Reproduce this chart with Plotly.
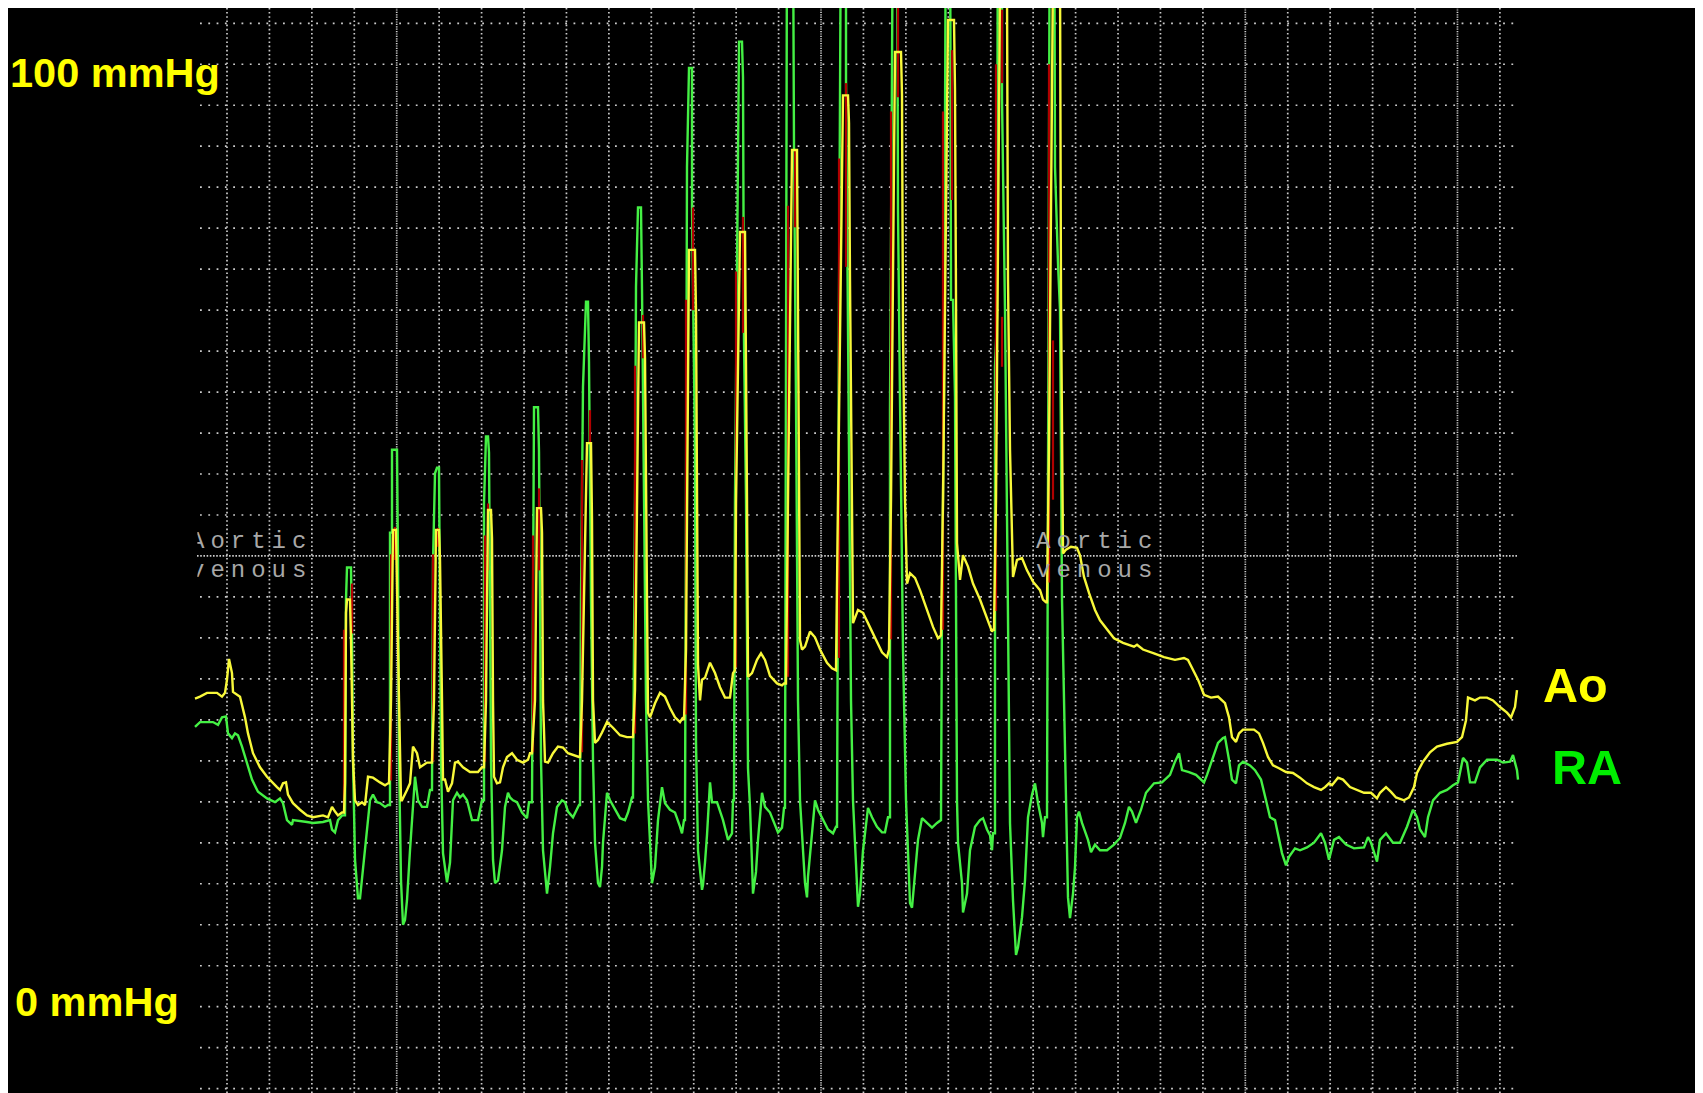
import plotly.graph_objects as go

# ---------------- data (time in ms, pressure in mmHg) ----------------
# RA (green) pressure trace vertices
ra_t = [0, 25, 90, 115, 135, 155, 165, 185, 200, 215, 235, 260, 285, 315, 360, 400, 425, 440, 460, 485, 490, 560, 590, 640, 675, 685, 700, 715, 735,
        750, 755, 760, 780, 785, 790, 800, 815, 825, 840, 860, 875, 890, 910, 925, 950, 965,
        975, 975, 985, 985, 1010, 1015, 1020, 1030, 1040, 1050, 1060, 1075, 1090, 1100, 1115, 1135, 1160, 1175, 1185,
        1190, 1200, 1210, 1220, 1225, 1230, 1240, 1260, 1275, 1290, 1310, 1325, 1340, 1360, 1385, 1415, 1435, 1445,
        1445, 1455, 1465, 1470, 1475, 1480, 1490, 1500, 1515, 1535, 1550, 1565, 1575, 1590, 1610, 1635, 1660, 1670, 1685,
        1690, 1695, 1715, 1720, 1725, 1730, 1740, 1760, 1775, 1790, 1810, 1835, 1850, 1865, 1890, 1910, 1920,
        1925, 1930, 1940, 1955, 1965, 1970, 1980, 1990, 2000, 2015, 2025, 2035, 2040, 2060, 2075, 2100, 2125, 2150, 2165, 2185,
        2190, 2200, 2205, 2215, 2230, 2235, 2240, 2255, 2265, 2275, 2285, 2300, 2315, 2335, 2350, 2375, 2400, 2425, 2435, 2445,
        2450, 2455, 2460, 2470, 2485, 2485, 2490, 2500, 2505, 2515, 2535, 2540, 2550, 2560, 2575, 2585, 2610, 2640, 2665, 2685, 2690,
        2695, 2700, 2710, 2720, 2735, 2740, 2745, 2755, 2765, 2775, 2785, 2790, 2805, 2815, 2835, 2850, 2875, 2900, 2915, 2935, 2945,
        2950, 2955, 2960, 2990, 2995, 3005, 3015, 3025, 3035, 3050, 3060, 3065, 3085, 3100, 3115, 3140, 3165, 3190, 3205,
        3210, 3215, 3220, 3230, 3255, 3255, 3265, 3280, 3290, 3300, 3310, 3315, 3325, 3340, 3365, 3385, 3410, 3435, 3450, 3465,
        3475, 3475, 3485, 3490, 3510, 3515, 3525, 3540, 3555, 3565, 3575, 3585, 3600, 3615, 3635, 3660, 3685, 3710, 3725,
        3730, 3735, 3745, 3755, 3775, 3780, 3790, 3800, 3805, 3810, 3815, 3835, 3840, 3860, 3875, 3900, 3925, 3940, 3960, 3975, 3985, 3990,
        4000, 4000, 4010, 4015, 4035, 4035, 4050, 4065, 4075, 4090, 4105, 4115, 4135, 4150, 4165, 4185, 4200, 4215, 4235, 4240, 4250,
        4260, 4265, 4270, 4275, 4295, 4300, 4315, 4325, 4335, 4355, 4365, 4375, 4390, 4400, 4410, 4420,
        4435, 4465, 4480, 4500, 4525, 4560, 4595, 4625, 4650, 4670, 4685, 4705, 4730, 4755, 4795, 4835, 4875, 4900, 4920, 4935,
        4970, 5005, 5045, 5060, 5090, 5115, 5140, 5150, 5170, 5185, 5205, 5220, 5240, 5275, 5300, 5330, 5355, 5375, 5400, 5420,
        5435, 5455, 5470, 5500, 5525, 5560, 5595, 5630, 5650, 5670, 5695, 5720, 5755, 5795, 5845, 5865, 5880, 5910, 5925, 5955,
        5990, 6025, 6060, 6090, 6110, 6125, 6150, 6165, 6190, 6225, 6260, 6290, 6315, 6340, 6360, 6375, 6400, 6425, 6460, 6510,
        6540, 6575, 6590, 6610, 6615]
ra_mmHg = [29.7, 30.2, 30.2, 29.9, 30.7, 30.8, 29.0, 28.5, 29.0, 28.8, 27.6, 25.9, 24.1, 22.8, 22.1, 21.7, 22.1, 21.6, 19.8, 19.3, 19.8, 19.6, 19.5, 19.6, 19.8, 18.8, 18.5, 19.8, 20.3,
           20.3, 43.2, 46.6, 46.6, 38.9, 26.2, 15.6, 11.5, 11.5, 14.8, 18.4, 21.9, 22.5, 21.7, 21.6, 21.2, 21.4,
           21.4, 50.3, 50.3, 59.1, 59.1, 47.4, 26.2, 13.4, 8.7, 9.2, 11.3, 16.6, 21.9, 24.4, 21.9, 21.2, 21.2, 23.0, 23.0,
           47.1, 56.6, 57.2, 57.2, 43.2, 26.2, 16.3, 13.2, 15.3, 21.9, 22.7, 22.2, 22.5, 21.9, 19.8, 19.8, 21.9, 21.9,
           53.4, 60.5, 60.5, 58.8, 43.2, 26.2, 15.6, 13.1, 13.4, 16.6, 21.2, 22.7, 22.2, 21.9, 21.7, 20.6, 20.0, 21.7, 21.7,
           53.0, 63.6, 63.6, 58.9, 43.2, 26.2, 16.6, 12.0, 14.8, 18.4, 21.2, 21.9, 21.7, 20.7, 20.1, 20.9, 21.4,
           21.4, 43.2, 65.8, 74.8, 74.8, 68.4, 43.2, 26.2, 17.4, 13.1, 12.7, 14.8, 17.4, 22.7, 21.9, 20.9, 20.0, 19.8, 20.6, 22.2,
           22.2, 53.8, 76.4, 84.8, 84.8, 76.1, 66.8, 32.5, 21.9, 17.4, 13.1, 14.8, 19.8, 23.3, 21.6, 20.9, 20.6, 19.1, 18.4, 19.8,
           19.8, 53.8, 89.1, 99.6, 99.6, 84.8, 74.4, 59.1, 28.1, 16.6, 12.4, 12.9, 15.3, 18.2, 23.8, 21.7, 21.7, 19.8, 17.7, 18.4, 21.9,
           21.9, 53.8, 80.0, 102.4, 102.4, 98.6, 70.7, 53.8, 25.3, 21.2, 15.3, 12.0, 14.3, 17.7, 22.7, 21.2, 20.6, 19.3, 18.5, 19.0, 21.1,
           21.1, 64.4, 116, 116, 91.2, 64.4, 32.5, 21.9, 18.4, 13.1, 11.6, 13.8, 18.4, 21.9, 20.9, 19.8, 18.8, 18.4, 19.1,
           19.1, 53.8, 75.0, 118, 118, 98.3, 75.0, 32.5, 21.9, 16.6, 12.0, 10.6, 12.0, 16.6, 21.1, 20.1, 19.1, 18.5, 18.5, 20.1,
           20.1, 63.3, 99.7, 120, 120, 84.5, 64.4, 37.9, 21.9, 15.3, 11.0, 10.5, 13.8, 17.7, 20.0, 19.5, 19.0, 19.5, 19.8,
           19.8, 43.2, 64.7, 122, 122, 75.0, 75.0, 64.7, 32.5, 21.9, 17.4, 13.1, 10.0, 12.0, 16.6, 19.1, 19.8, 20.0, 18.8, 18.2, 16.6, 18.4,
           18.4, 67.9, 73.2, 124, 124, 96.4, 73.9, 43.2, 19.5, 11.3, 5.5, 6.3, 9.5, 13.4, 20.1, 22.5, 23.7, 21.6, 19.5, 18.0, 20.1,
           20.1, 53.8, 70.7, 126, 126, 89.1, 78.9, 73.9, 43.2, 23.0, 11.6, 9.4, 12.0, 14.8, 20.1, 20.7,
           19.5, 17.7, 16.4, 17.2, 16.6, 16.6, 17.2, 17.9, 19.5, 21.2, 20.7, 19.5, 20.9, 22.7, 23.7, 23.8, 24.6, 26.0, 26.9, 25.1,
           24.9, 24.6, 23.8, 24.6, 26.5, 28.0, 28.5, 28.6, 26.2, 24.1, 23.7, 25.6, 26.0, 25.6, 25.1, 24.1, 21.9, 20.1, 19.8, 17.7,
           16.3, 15.0, 15.9, 16.8, 16.6, 16.9, 17.4, 18.4, 17.4, 15.6, 17.7, 18.0, 17.2, 16.8, 16.9, 18.0, 17.4, 15.4, 17.7, 18.4,
           17.4, 17.4, 19.1, 20.9, 20.1, 18.8, 18.0, 20.1, 21.9, 22.7, 23.0, 23.5, 23.8, 26.4, 25.9, 23.8, 23.8, 25.4, 26.2, 26.2,
           25.9, 26.0, 26.7, 25.1, 24.1]

# Ao (yellow) pressure trace vertices
ao_t = [0, 25, 60, 110, 135, 150, 160, 170, 185, 190, 225, 250, 265, 290, 325, 360, 410, 425, 440, 455, 465, 490, 525, 560, 590, 640, 665, 685, 700, 715, 735,
        745, 750, 755, 760, 775, 780, 790, 800, 815, 835, 850, 865, 890, 925, 950, 965,
        970, 980, 990, 1005, 1010, 1020, 1030, 1035, 1060, 1075, 1090, 1110, 1125, 1160, 1175,
        1185, 1195, 1205, 1220, 1225, 1235, 1240, 1250, 1265, 1285, 1300, 1315, 1340, 1375, 1415, 1435,
        1445, 1455, 1465, 1480, 1485, 1490, 1495, 1510, 1525, 1540, 1560, 1585, 1610, 1640, 1665, 1675,
        1685, 1700, 1710, 1730, 1735, 1740, 1750, 1765, 1790, 1815, 1840, 1865, 1890, 1910, 1920,
        1925, 1935, 1960, 1980, 1985, 1990, 2000, 2015, 2035, 2060, 2090, 2125, 2160, 2180,
        2190, 2200, 2220, 2245, 2250, 2260, 2265, 2275, 2300, 2325, 2350, 2375, 2400, 2425, 2440,
        2445, 2455, 2470, 2500, 2505, 2510, 2515, 2525, 2535, 2550, 2575, 2600, 2625, 2650, 2675, 2690,
        2700, 2705, 2725, 2750, 2755, 2760, 2765, 2785, 2810, 2830, 2850, 2875, 2910, 2935, 2945,
        2955, 2965, 2985, 3010, 3015, 3020, 3025, 3035, 3050, 3075, 3100, 3125, 3160, 3185, 3200,
        3205, 3215, 3240, 3265, 3270, 3275, 3285, 3290, 3315, 3340, 3365, 3400, 3435, 3460, 3470,
        3480, 3500, 3530, 3535, 3540, 3550, 3560, 3575, 3600, 3625, 3660, 3690, 3715, 3730,
        3740, 3765, 3795, 3800, 3805, 3810, 3825, 3840, 3865, 3890, 3925, 3960, 3985, 3990,
        3995, 4005, 4025, 4060, 4065, 4075, 4085, 4090, 4110, 4135, 4160, 4190, 4225, 4240, 4255,
        4260, 4270, 4290, 4325, 4330, 4340, 4355, 4380, 4410, 4425, 4445, 4470, 4500, 4525, 4560, 4595, 4640, 4695, 4710, 4740,
        4795, 4845, 4900, 4945, 4965, 4990, 5015, 5045, 5080, 5115, 5150, 5170, 5185, 5205, 5220, 5240, 5295, 5320, 5340, 5365,
        5390, 5420, 5455, 5490, 5525, 5560, 5595, 5630, 5650, 5670, 5685, 5715, 5740, 5775, 5810, 5845, 5880, 5910, 5925, 5955,
        5980, 6005, 6045, 6070, 6095, 6110, 6140, 6175, 6210, 6260, 6310, 6335, 6355, 6365, 6400, 6425, 6460, 6490, 6525, 6560,
        6580, 6600, 6610]
ao_mmHg = [32.7, 32.9, 33.3, 33.3, 32.9, 33.3, 34.7, 36.9, 35.4, 33.4, 32.9, 30.7, 29.0, 26.9, 25.4, 24.4, 23.3, 23.0, 23.7, 23.8, 22.5, 21.6, 20.9, 20.3, 20.1, 20.3, 20.1, 21.2, 20.7, 20.3, 20.6,
           20.6, 23.7, 41.8, 43.2, 43.2, 38.9, 26.2, 21.9, 21.4, 21.7, 21.4, 24.4, 24.3, 23.8, 23.5, 23.7,
           23.7, 32.5, 50.6, 50.6, 43.2, 32.5, 21.9, 21.9, 23.0, 23.7, 27.6, 26.9, 25.4, 25.9, 25.9,
           25.9, 32.5, 50.6, 50.6, 47.4, 32.5, 24.1, 24.1, 22.8, 23.7, 25.9, 26.0, 25.4, 24.9, 24.9, 25.4,
           25.4, 32.5, 52.7, 52.7, 49.7, 32.5, 24.4, 23.7, 23.8, 25.4, 26.5, 26.9, 26.2, 25.9, 26.2, 26.9,
           26.9, 32.5, 52.9, 52.9, 50.3, 32.5, 26.0, 25.9, 26.9, 27.6, 27.5, 26.9, 26.7, 26.5, 26.5,
           26.5, 32.5, 59.8, 59.8, 51.6, 32.5, 28.0, 28.3, 29.1, 30.2, 29.6, 28.8, 28.6, 28.6,
           28.6, 33.6, 72.6, 72.6, 68.8, 43.2, 31.2, 30.7, 32.2, 33.3, 32.9, 31.7, 30.7, 30.2, 30.7,
           30.4, 37.9, 80.3, 80.3, 73.7, 56.6, 36.3, 32.5, 34.7, 34.9, 36.5, 35.4, 33.9, 32.8, 32.8, 35.4,
           35.7, 53.4, 82.2, 82.2, 71.3, 53.8, 35.0, 35.4, 36.8, 37.5, 36.8, 35.1, 34.3, 34.1, 34.3,
           34.3, 53.8, 90.9, 90.9, 75.0, 54.8, 38.9, 37.9, 38.2, 39.8, 39.2, 37.9, 36.5, 35.9, 35.7,
           35.7, 53.8, 96.7, 96.7, 93.8, 76.9, 48.5, 40.7, 42.1, 41.8, 40.7, 39.1, 37.6, 37.1, 37.9,
           53.8, 101.3, 101.3, 96.7, 71.5, 53.8, 44.9, 46.0, 45.5, 44.2, 42.1, 40.3, 39.1, 39.4,
           53.8, 104.7, 104.7, 97.3, 75.0, 49.2, 45.3, 47.9, 46.7, 44.9, 43.2, 41.3, 39.8, 40.0,
           40.0, 53.8, 108, 108, 77.1, 59.1, 47.7, 45.6, 47.4, 47.6, 46.3, 45.1, 44.2, 43.2, 42.9,
           42.9, 59.1, 110, 110, 75.0, 48.1, 48.5, 48.8, 48.7, 47.9, 45.6, 43.9, 42.1, 41.0, 40.0, 39.1, 38.6, 38.2, 38.4, 37.9,
           37.5, 37.1, 36.8, 37.0, 36.8, 35.7, 34.7, 33.1, 32.8, 32.9, 32.2, 30.7, 28.6, 28.1, 29.0, 29.4, 29.4, 29.0, 28.0, 26.5,
           25.6, 25.3, 24.9, 24.8, 24.3, 23.7, 23.3, 23.0, 23.3, 23.7, 23.5, 24.3, 24.1, 23.3, 23.0, 22.7, 22.7, 22.1, 22.7, 23.3,
           22.8, 22.2, 21.9, 22.2, 23.3, 24.8, 26.0, 27.0, 27.6, 27.9, 28.1, 28.6, 30.4, 32.8, 32.5, 32.8, 32.8, 32.5, 31.8, 31.2,
           30.7, 31.8, 33.6]

# third (red) channel: visible upstroke / downstroke fragments
red_t = [745, 745, None, 785, 785, None, 980, 980, None, 1000, 1000, None, 1190, 1190, None, 1215, 1215, None,
         1450, 1450, None, 1465, 1465, None, 1690, 1690, None, 1720, 1720, None,
         1935, 1935, None, 1975, 1975, None, 2200, 2200, None, 2240, 2240, None,
         2455, 2455, None, 2490, 2490, None, 2705, 2705, None, 2740, 2740, None,
         2965, 2965, None, 3000, 3000, None, 3220, 3220, None, 3255, 3255, None,
         3480, 3480, None, 3515, 3515, None, 3740, 3740, None, 3785, 3785, None,
         4005, 4005, None, 4035, 4035, None, 4035, 4035, None, 4270, 4270, None, 4290, 4290]
red_mmHg = [20.6, 40.0, None, 39.6, 44.9, None, 24.0, 48.0, None, 47.4, 50.9, None, 26.0, 48.0, None, 48.8, 50.8, None,
            26.0, 50.0, None, 46.3, 53.4, None, 27.0, 50.0, None, 46.3, 55.0, None,
            27.0, 58.0, None, 59.8, 63.3, None, 29.0, 68.0, None, 68.8, 73.4, None,
            31.0, 75.0, None, 73.9, 84.8, None, 36.0, 78.0, None, 71.5, 83.8, None,
            35.0, 85.0, None, 82.7, 90.9, None, 37.0, 90.0, None, 78.5, 98.0, None,
            39.0, 95.0, None, 96.5, 106.1, None, 40.0, 95.0, None, 85.6, 101.5, None,
            42.0, 100.0, None, 67.9, 73.2, None, 98.0, 105.8, None, 45.0, 100.0, None, 53.8, 70.7]

assert len(ra_t) == len(ra_mmHg), (len(ra_t), len(ra_mmHg))
assert len(ao_t) == len(ao_mmHg), (len(ao_t), len(ao_mmHg))
assert len(red_t) == len(red_mmHg)

scale_labels = ["100 mmHg", "0 mmHg"]
scale_values = [100, 0]
channel_labels = ["Ao", "RA"]
marker_text = ["Aortic", "venous"]
marker_times = [-25, 4205]

# ---------------- layout constants ----------------
W, H = 1695, 1085
X_RANGE = [-935, 7540]
Y_RANGE = [-9.157, 105.97]
DIV_T = 212.15          # ms per time division
T_FIRST = 160
MM_DIV = 100 / 23       # mmHg per pressure division
GRID_X0, GRID_X1 = 25, 6615
GRID = "#cccccc"
CLIP_T = 12             # left edge of the trace window (marker text is clipped there)

fig = go.Figure()

fig.add_trace(go.Scatter(x=ra_t, y=ra_mmHg, mode="lines", name="RA",
                         line=dict(color="#44f044", width=2.4), showlegend=False))
fig.add_trace(go.Scatter(x=red_t, y=red_mmHg, mode="lines", connectgaps=False,
                         line=dict(color="#b00000", width=2.2), showlegend=False, hoverinfo="skip"))
fig.add_trace(go.Scatter(x=ao_t, y=ao_mmHg, mode="lines", name="Ao",
                         line=dict(color="#f8f83a", width=2.4), showlegend=False))

# event-marker text, on an axis whose window starts at the trace window edge (so it clips)
mk_x, mk_y, mk_s = [], [], []
for mt in marker_times:
    mk_x += [mt, mt]
    mk_y += [49.3, 46.2]
    mk_s += ['<span style="letter-spacing:6px">' + marker_text[0] + '</span>',
             '<span style="letter-spacing:6px">' + marker_text[1] + '</span>']
dom0 = (CLIP_T - X_RANGE[0]) / (X_RANGE[1] - X_RANGE[0])
fig.add_trace(go.Scatter(x=mk_x, y=mk_y, text=mk_s, mode="text", textposition="middle right",
                         textfont=dict(family="Liberation Mono", size=24, color="#a8a8a8"),
                         xaxis="x2", yaxis="y", cliponaxis=True, showlegend=False, hoverinfo="skip"))

shapes = []
# vertical dotted grid
for k in range(31):
    t = T_FIRST + DIV_T * k
    dense = k in (4, 14, 24, 29)
    shapes.append(dict(type="line", xref="x", yref="paper", x0=t, x1=t, y0=0, y1=1, layer="below",
                       line=dict(color=GRID, width=1.7, dash="1.2px,1.2px" if dense else "1.6px,2.6px")))
# horizontal dotted grid
for k in range(-2, 25):
    y = k * MM_DIV
    dense = (k == 11)
    shapes.append(dict(type="line", xref="x", yref="y", x0=GRID_X0 - (15 if dense else 0), x1=GRID_X1, y0=y, y1=y,
                       layer="below",
                       line=dict(color=GRID, width=1.7, dash="1.6px,1.6px" if dense else "1.8px,6.5px")))

ann = []
ann.append(dict(x=-935, y=scale_values[0] - 0.85, text="<b>" + scale_labels[0] + "</b>", xanchor="left", yanchor="middle",
                showarrow=False, font=dict(family="Liberation Sans", size=41.5, color="#ffff00")))
ann.append(dict(x=-912, y=scale_values[1] + 0.5, text="<b>" + scale_labels[1] + "</b>", xanchor="left", yanchor="middle",
                showarrow=False, font=dict(family="Liberation Sans", size=41.5, color="#ffff00")))
ann.append(dict(x=6732, y=34.1, text="<b>" + channel_labels[0] + "</b>", xanchor="left", yanchor="middle",
                showarrow=False, font=dict(family="Liberation Sans", size=48.5, color="#ffff00")))
ann.append(dict(x=6775, y=25.4, text="<b>" + channel_labels[1] + "</b>", xanchor="left", yanchor="middle",
                showarrow=False, font=dict(family="Liberation Sans", size=48.5, color="#00ee00")))

fig.update_layout(
    width=W, height=H,
    margin=dict(l=0, r=0, t=0, b=0, pad=0),
    paper_bgcolor="#000000", plot_bgcolor="rgba(0,0,0,0)",
    xaxis=dict(range=X_RANGE, visible=False, fixedrange=True, domain=[0, 1]),
    xaxis2=dict(range=[CLIP_T, X_RANGE[1]], domain=[dom0, 1], anchor="y", visible=False, fixedrange=True),
    yaxis=dict(range=Y_RANGE, visible=False, fixedrange=True),
    shapes=shapes, annotations=ann, showlegend=False,
)

fig.write_html("out.html", config={"displayModeBar": False})
